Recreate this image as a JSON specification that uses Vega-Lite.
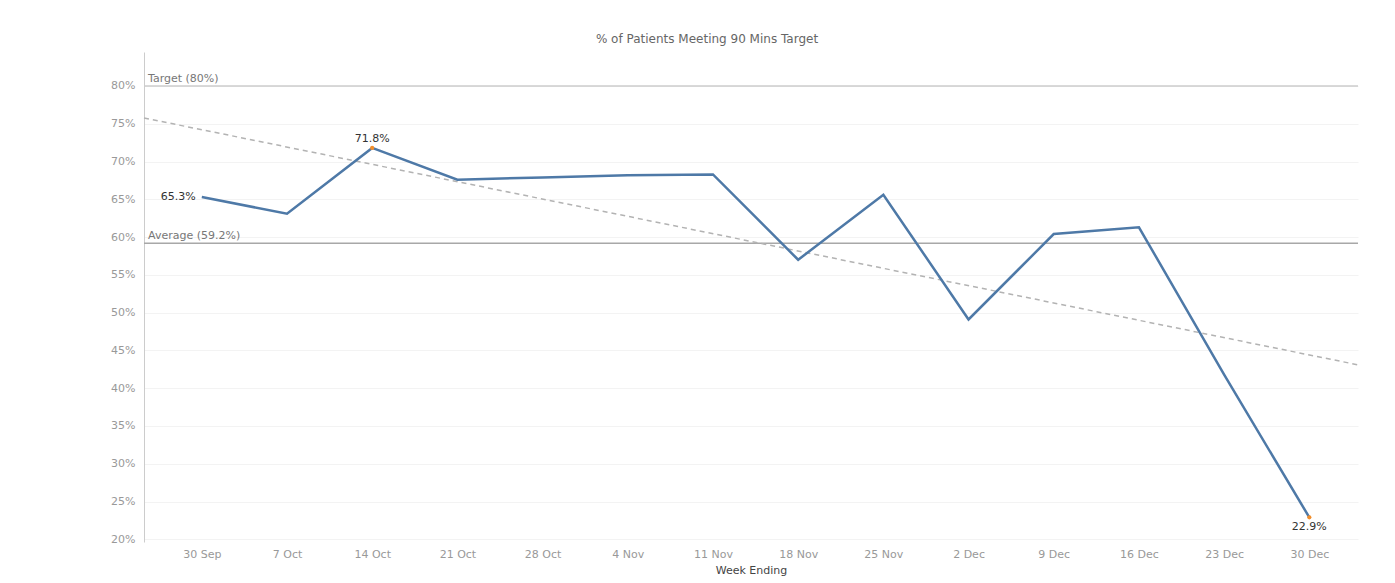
{
  "$schema": "https://vega.github.io/schema/vega-lite/v6.json",
  "autosize": "none",
  "width": 1214,
  "height": 490,
  "padding": {"left": 144, "top": 52, "right": 37, "bottom": 41},
  "background": "white",
  "config": {"font": "DejaVu Sans", "view": {"stroke": null}},
  "title": {"text": "% of Patients Meeting 90 Mins Target", "fontSize": 12, "fontWeight": "normal", "color": "#666666", "anchor": "middle", "dx": -44, "offset": 6},
  "datasets": {
    "weeks": [
      {"week": "2018-09-30", "pct": 0.653},
      {"week": "2018-10-07", "pct": 0.631},
      {"week": "2018-10-14", "pct": 0.718},
      {"week": "2018-10-21", "pct": 0.676},
      {"week": "2018-10-28", "pct": 0.679},
      {"week": "2018-11-04", "pct": 0.682},
      {"week": "2018-11-11", "pct": 0.683},
      {"week": "2018-11-18", "pct": 0.570},
      {"week": "2018-11-25", "pct": 0.656},
      {"week": "2018-12-02", "pct": 0.491},
      {"week": "2018-12-09", "pct": 0.604},
      {"week": "2018-12-16", "pct": 0.613},
      {"week": "2018-12-23", "pct": 0.418},
      {"week": "2018-12-30", "pct": 0.229}
    ],
    "refs": [
      {"ref": "Target", "value": 0.8, "label": "Target (80%)"},
      {"ref": "Average", "value": 0.592, "label": "Average (59.2%)"}
    ]
  },
  "data": {"name": "weeks", "format": {"parse": {"week": "date"}}},
  "layer": [
    {
      "data": {"name": "refs"},
      "mark": {"type": "rule", "strokeWidth": 1.5},
      "encoding": {
        "y": {"field": "value", "type": "quantitative", "title": null},
        "color": {"condition": {"test": "datum.ref == 'Target'", "value": "#cccccc"}, "value": "#a8a8a8"}
      }
    },
    {
      "data": {"name": "refs"},
      "mark": {"type": "text", "align": "left", "baseline": "bottom", "dx": 4, "dy": -2, "fontSize": 11, "color": "#777777"},
      "encoding": {
        "x": {"datum": {"year": 2018, "month": 9, "date": 25, "hours": 6, "utc": true}, "type": "temporal"},
        "y": {"field": "value", "type": "quantitative", "title": null},
        "text": {"field": "label"}
      }
    },
    {
      "transform": [{"regression": "pct", "on": "week", "method": "linear", "extent": [1537855200000, 1546473600000]}],
      "mark": {"type": "line", "color": "#b3b3b3", "strokeWidth": 1.5, "strokeDash": [5, 4]},
      "encoding": {
        "x": {"field": "week", "type": "temporal", "title": "Week Ending"},
        "y": {"field": "pct", "type": "quantitative", "title": null}
      }
    },
    {
      "mark": {"type": "line", "color": "#4e79a7", "strokeWidth": 2.5},
      "encoding": {
        "x": {
          "field": "week", "type": "temporal", "title": "Week Ending",
          "scale": {"type": "utc", "domain": [{"year": 2018, "month": 9, "date": 25, "hours": 6, "utc": true}, {"year": 2019, "month": 1, "date": 3, "utc": true}]},
          "axis": {"labelExpr": "utcFormat(datum.value, '%-d %b')", "tickCount": {"interval": "week", "step": 1}, "grid": false, "domain": false, "ticks": false, "labelPadding": 6, "labelFontSize": 11, "labelColor": "#999999", "titleFontSize": 11, "titleFontWeight": "normal", "titleColor": "#444444", "titlePadding": 5}
        },
        "y": {
          "field": "pct", "type": "quantitative", "title": null,
          "scale": {"domain": [0.1964, 0.845], "nice": false, "zero": false},
          "axis": {"values": [0.2, 0.25, 0.3, 0.35, 0.4, 0.45, 0.5, 0.55, 0.6, 0.65, 0.7, 0.75, 0.8], "format": ".0%", "ticks": false, "labelPadding": 9, "labelFontSize": 11, "labelColor": "#999999", "domainColor": "#cccccc", "gridColor": "#f3f3f3", "grid": true}
        }
      }
    },
    {
      "transform": [{"filter": "datum.pct == 0.718 || datum.pct == 0.229"}],
      "mark": {"type": "point", "filled": true, "size": 18, "color": "#f28e2b", "opacity": 1},
      "encoding": {
        "x": {"field": "week", "type": "temporal"},
        "y": {"field": "pct", "type": "quantitative", "title": null}
      }
    },
    {
      "transform": [{"filter": "datum.pct == 0.653"}],
      "mark": {"type": "text", "align": "right", "baseline": "middle", "dx": -6, "fontSize": 11, "color": "#333333"},
      "encoding": {
        "x": {"field": "week", "type": "temporal"},
        "y": {"field": "pct", "type": "quantitative", "title": null},
        "text": {"field": "pct", "format": ".1%"}
      }
    },
    {
      "transform": [{"filter": "datum.pct == 0.718"}],
      "mark": {"type": "text", "align": "center", "baseline": "bottom", "dy": -4, "fontSize": 11, "color": "#333333"},
      "encoding": {
        "x": {"field": "week", "type": "temporal"},
        "y": {"field": "pct", "type": "quantitative", "title": null},
        "text": {"field": "pct", "format": ".1%"}
      }
    },
    {
      "transform": [{"filter": "datum.pct == 0.229"}],
      "mark": {"type": "text", "align": "center", "baseline": "top", "dy": 4, "fontSize": 11, "color": "#333333"},
      "encoding": {
        "x": {"field": "week", "type": "temporal"},
        "y": {"field": "pct", "type": "quantitative", "title": null},
        "text": {"field": "pct", "format": ".1%"}
      }
    }
  ]
}
